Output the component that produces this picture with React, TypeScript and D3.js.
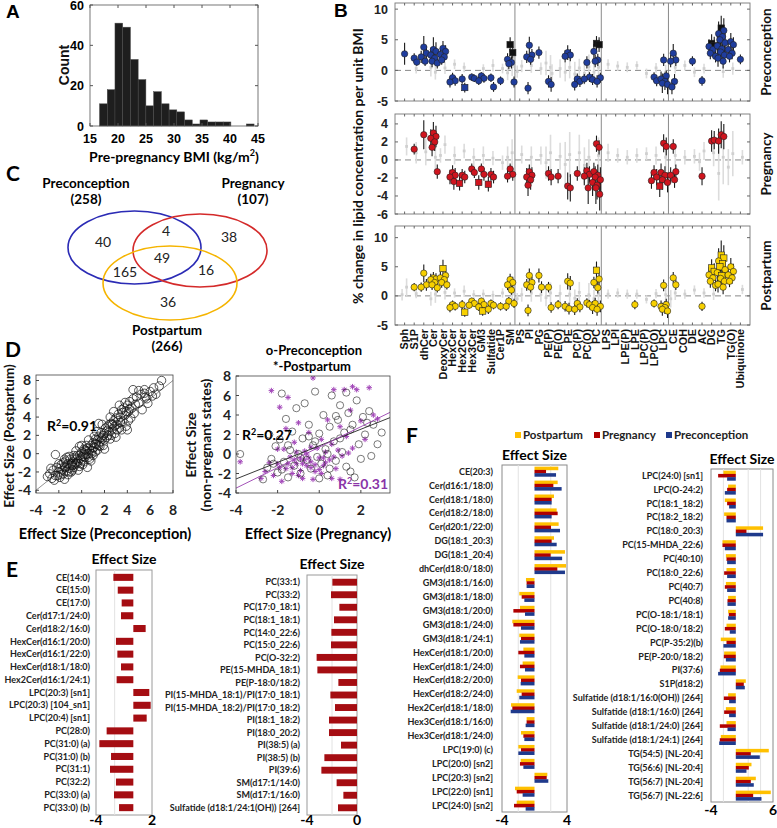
import React from "react";
import * as d3 from "d3";

const ARIAL = "'Liberation Sans', Arial, sans-serif";
const CAL = "Lato, 'Open Sans', sans-serif";

// ---------- A: BMI histogram ----------
const bmiCounts = [11, 18, 51, 49, 33, 23, 10, 17, 11, 8, 7, 3, 1, 3, 2, 2, 2, 0, 0, 1];
const bmiBinStart = 16.7;
const bmiBinWidth = 1.38;
const bmiTicks = [15, 20, 25, 30, 35, 40, 45];
const countTicks = [0, 20, 40, 60];

// ---------- B: lipid class effects ----------
const lipidClasses = [
  "Sph", "S1P", "dhCer", "Cer", "DeoxyCer", "HexCer", "Hex2Cer", "Hex3Cer", "GM3", "Sulfatide",
  "Cer1P", "SM", "PS", "PI", "PG", "PE(P)", "PE(O)", "PE", "PC(P)", "PC(O)", "PC", "LPS", "LPI",
  "LPE(P)", "LPE", "LPC(P)", "LPC(O)", "LPC", "CE", "COH", "DE", "AC", "DG", "TG", "TG(O)", "Ubiquinone",
];
const classBreaks = ["SM", "PC", "LPC"];

// [class, value, half error, marker: 0 circle, 1 square, 2 black square]
const preconPts: any[] = [
  ["Sph", 2.7, 1.8],
  ["S1P", 2.0, 0.8], ["S1P", 1.35, 0.6],
  ["dhCer", 3.8, 1.8], ["dhCer", 2.8, 1.2], ["dhCer", 2.2, 1.0], ["dhCer", 1.5, 0.8],
  ["Cer", 3.4, 2.0], ["Cer", 3.1, 1.5], ["Cer", 2.5, 1.2], ["Cer", 2.0, 1.0], ["Cer", 1.5, 1.0], ["Cer", 1.2, 0.9],
  ["DeoxyCer", 3.6, 1.2], ["DeoxyCer", 3.1, 1.0], ["DeoxyCer", 2.6, 1.0], ["DeoxyCer", 2.2, 0.9], ["DeoxyCer", 1.7, 0.8],
  ["HexCer", -1.2, 0.8], ["HexCer", -1.7, 0.8], ["HexCer", -1.9, 0.9],
  ["Hex2Cer", -1.4, 0.8], ["Hex2Cer", -2.8, 0.8, 1],
  ["Hex3Cer", -1.1, 0.6], ["Hex3Cer", -1.3, 0.6],
  ["GM3", -0.9, 0.6], ["GM3", -1.3, 0.7], ["GM3", -1.7, 0.7],
  ["Sulfatide", -1.2, 0.7], ["Sulfatide", -2.7, 0.8],
  ["Cer1P", -1.7, 0.7],
  ["SM", 4.2, 1.2, 2], ["SM", 2.9, 1.0, 2], ["SM", 1.8, 1.0], ["SM", 1.3, 1.0], ["SM", 1.1, 0.9], ["SM", -1.9, 0.9],
  ["PI", 4.1, 1.4], ["PI", 2.5, 1.0], ["PI", 2.2, 1.0], ["PI", 1.8, 0.9], ["PI", -2.9, 1.0],
  ["PG", 2.9, 1.0],
  ["PE(P)", -1.8, 1.0], ["PE(P)", -2.3, 1.2],
  ["PE", 2.9, 1.2], ["PE", 2.5, 1.0], ["PE", 2.3, 1.0],
  ["PC(P)", -1.4, 0.9], ["PC(P)", -1.8, 0.9], ["PC(P)", -2.3, 1.0],
  ["PC(O)", 1.3, 1.0], ["PC(O)", -1.1, 0.8], ["PC(O)", -1.4, 0.8],
  ["PC", 4.4, 1.2, 2], ["PC", 4.2, 1.2, 2], ["PC", 3.1, 1.2], ["PC", 1.7, 1.0], ["PC", 1.5, 1.0], ["PC", -1.2, 0.8], ["PC", -1.5, 0.9], ["PC", -1.8, 1.0],
  ["LPC(O)", -1.1, 0.8], ["LPC(O)", -1.7, 0.9],
  ["LPC", 1.7, 1.0], ["LPC", -0.9, 0.9], ["LPC", -1.4, 1.2], ["LPC", -1.8, 1.4], ["LPC", -2.1, 1.6], ["LPC", -2.3, 1.6],
  ["CE", 2.8, 1.5], ["CE", 1.7, 1.0], ["CE", 1.5, 1.0], ["CE", -1.8, 1.2], ["CE", -2.7, 1.2],
  ["DE", 1.5, 0.8],
  ["AC", -1.7, 0.8],
  ["DG", 4.4, 1.5, 2], ["DG", 4.0, 1.5, 2], ["DG", 3.9, 1.2], ["DG", 3.4, 1.2], ["DG", 2.8, 1.0], ["DG", 2.3, 1.0],
  ["TG", 6.9, 2.0, 2], ["TG", 6.5, 2.0], ["TG", 6.0, 2.0], ["TG", 5.5, 1.8], ["TG", 5.0, 1.8], ["TG", 4.5, 1.8],
  ["TG", 4.0, 1.6], ["TG", 3.5, 1.6], ["TG", 3.0, 1.5], ["TG", 2.5, 1.5], ["TG", 2.0, 1.4], ["TG", 1.5, 1.2],
  ["TG(O)", 4.7, 1.4], ["TG(O)", 4.2, 1.2], ["TG(O)", 3.4, 1.2], ["TG(O)", 2.8, 1.0], ["TG(O)", 2.3, 1.0],
  ["Ubiquinone", 1.8, 0.8],
];
const pregPts: any[] = [
  ["S1P", 1.2, 0.6],
  ["dhCer", 2.8, 1.6],
  ["Cer", 3.0, 1.2], ["Cer", 2.6, 1.2], ["Cer", 2.4, 1.0], ["Cer", 2.0, 1.0], ["Cer", 1.4, 1.0], ["Cer", -1.3, 0.8],
  ["HexCer", -1.4, 0.8], ["HexCer", -1.7, 0.8], ["HexCer", -1.9, 0.8], ["HexCer", -2.4, 0.9],
  ["Hex2Cer", -1.7, 0.7], ["Hex2Cer", -1.9, 0.7], ["Hex2Cer", -2.6, 0.8, 1],
  ["Hex3Cer", -1.0, 0.6], ["Hex3Cer", -1.4, 0.6],
  ["GM3", -1.0, 0.6], ["GM3", -1.6, 0.7], ["GM3", -2.5, 0.8, 1],
  ["Sulfatide", -1.6, 0.7], ["Sulfatide", -1.9, 0.7], ["Sulfatide", -2.7, 0.8, 1],
  ["SM", -1.0, 0.6], ["SM", -1.6, 0.7], ["SM", -1.8, 0.7],
  ["PI", -1.3, 0.8], ["PI", -1.7, 0.9], ["PI", -1.9, 1.0], ["PI", -2.2, 1.1], ["PI", -2.8, 1.2],
  ["PE(P)", -1.5, 0.8], ["PE(P)", -1.9, 0.9],
  ["PE(O)", -1.8, 0.8],
  ["PE", -2.9, 1.5], ["PE", -3.1, 1.5],
  ["PC(P)", -1.5, 0.8],
  ["PC(O)", -1.2, 0.9], ["PC(O)", -1.6, 0.9], ["PC(O)", -1.8, 1.0], ["PC(O)", -3.1, 1.8],
  ["PC", 1.8, 0.9], ["PC", 1.4, 0.8], ["PC", -1.3, 1.0], ["PC", -1.7, 1.2], ["PC", -1.9, 1.2], ["PC", -2.2, 1.4],
  ["PC", -2.5, 1.5], ["PC", -2.8, 1.6], ["PC", -3.1, 1.8], ["PC", -3.8, 1.8],
  ["LPC(O)", -1.4, 0.8], ["LPC(O)", -1.9, 0.9], ["LPC(O)", -2.3, 0.9],
  ["LPC", 1.85, 1.0], ["LPC", 1.5, 1.0], ["LPC", -1.4, 1.0], ["LPC", -1.7, 1.0], ["LPC", -2.2, 1.1], ["LPC", -2.5, 1.1], ["LPC", -2.9, 1.2, 1],
  ["CE", 1.5, 0.8], ["CE", -1.3, 0.8], ["CE", -1.7, 0.9], ["CE", -2.2, 0.9],
  ["AC", -1.8, 1.0],
  ["DG", 2.1, 1.2], ["DG", 2.2, 1.0],
  ["TG", 2.8, 1.5], ["TG", 2.6, 1.4], ["TG", 2.1, 1.4],
];
const postPts: any[] = [
  ["S1P", 1.5, 0.7],
  ["dhCer", 3.9, 1.5], ["dhCer", 1.9, 1.0], ["dhCer", 1.5, 0.8],
  ["Cer", 3.1, 1.0], ["Cer", 2.9, 1.0], ["Cer", 2.8, 1.0], ["Cer", 2.3, 1.0], ["Cer", 1.9, 0.9], ["Cer", 1.4, 0.8],
  ["DeoxyCer", 4.7, 1.5, 1], ["DeoxyCer", 3.5, 1.2], ["DeoxyCer", 3.1, 1.0], ["DeoxyCer", 2.8, 1.0], ["DeoxyCer", 2.3, 0.9], ["DeoxyCer", 1.9, 0.8],
  ["HexCer", -1.5, 0.7], ["HexCer", -1.8, 0.7], ["HexCer", -2.0, 0.8],
  ["Hex2Cer", -1.5, 0.8], ["Hex2Cer", -2.8, 0.8, 1],
  ["Hex3Cer", -0.9, 0.6], ["Hex3Cer", -1.3, 0.6], ["Hex3Cer", -1.6, 0.6],
  ["GM3", -0.9, 0.6], ["GM3", -1.5, 0.7], ["GM3", -1.9, 0.7], ["GM3", -2.6, 0.8, 1],
  ["Sulfatide", -1.3, 0.7], ["Sulfatide", -1.6, 0.7], ["Sulfatide", -2.3, 0.8],
  ["Cer1P", -1.8, 0.7],
  ["SM", 2.8, 1.0], ["SM", 2.3, 1.0], ["SM", 1.9, 0.9], ["SM", 1.0, 0.8], ["SM", -0.9, 0.7], ["SM", -1.3, 0.8], ["SM", -1.8, 0.8],
  ["PI", 3.5, 1.2], ["PI", 2.3, 1.0], ["PI", 1.9, 1.0], ["PI", 1.5, 0.9], ["PI", -2.5, 1.0],
  ["PG", 3.5, 1.2], ["PG", 1.5, 1.0],
  ["PE(P)", 1.5, 0.9], ["PE(P)", -2.0, 0.9],
  ["PE(O)", -1.5, 0.8],
  ["PE", 2.5, 1.4], ["PE", 2.2, 1.2], ["PE", -1.8, 0.9], ["PE", -2.2, 1.0],
  ["PC(P)", -1.3, 0.9], ["PC(P)", -1.9, 0.9], ["PC(P)", -2.3, 1.0],
  ["PC(O)", -1.2, 0.8], ["PC(O)", -1.5, 0.8],
  ["PC", 4.4, 1.5, 1], ["PC", 2.9, 1.2], ["PC", 2.3, 1.0], ["PC", 1.4, 1.0], ["PC", -1.3, 1.0], ["PC", -1.8, 1.0], ["PC", -2.0, 1.1], ["PC", -2.3, 1.1],
  ["LPE", -1.5, 0.8],
  ["LPC(O)", -1.3, 0.7],
  ["LPC", 1.8, 1.0], ["LPC", -1.5, 1.0], ["LPC", -1.8, 1.0], ["LPC", -2.0, 1.1], ["LPC", -2.3, 1.1], ["LPC", -2.6, 1.2],
  ["CE", 3.1, 1.0], ["CE", 1.9, 0.9],
  ["AC", -1.8, 0.8],
  ["DG", 4.8, 1.5, 1], ["DG", 4.2, 1.4, 1], ["DG", 3.6, 1.3], ["DG", 3.1, 1.2], ["DG", 2.5, 1.1], ["DG", 1.8, 1.0],
  ["TG", 7.0, 2.5, 1], ["TG", 6.5, 2.2, 1], ["TG", 6.0, 2.2], ["TG", 5.5, 2.0, 1], ["TG", 5.0, 2.0, 1], ["TG", 4.5, 1.8],
  ["TG", 4.0, 1.8], ["TG", 3.5, 1.6, 1], ["TG", 3.0, 1.5], ["TG", 2.5, 1.5], ["TG", 2.0, 1.4], ["TG", 1.5, 1.2],
  ["TG(O)", 5.0, 1.5], ["TG(O)", 4.2, 1.3], ["TG(O)", 3.6, 1.2], ["TG(O)", 3.1, 1.0], ["TG(O)", 2.5, 1.0],
];
// non-significant species: [class index, value, half error]
const preconGray = [
  [1, 0.3, 0.8], [3, -0.3, 1.2], [3, 0.5, 1.5], [4, 0.4, 1.0], [5, 1.0, 0.8], [6, 0.5, 0.8], [8, 0.3, 0.7], [9, 0.8, 1.0],
  [10, 0.3, 0.8], [11, 0.6, 1.5], [11, -0.4, 1.2], [12, 0.7, 1.0], [12, -0.2, 1.0], [13, 0.8, 1.2], [14, 0.3, 1.0],
  [15, 0.5, 2.0], [15, 1.2, 2.0], [15, -0.5, 1.5], [16, 0.3, 1.5], [17, 0.5, 1.8], [17, -0.3, 1.5], [18, 0.4, 1.5],
  [18, -0.6, 2.0], [19, 0.6, 2.0], [19, -0.5, 1.8], [20, 0.5, 1.5], [20, -0.3, 1.5], [21, 1.0, 0.8], [22, 0.7, 0.8],
  [23, 0.5, 0.8], [24, 0.8, 0.7], [25, -0.5, 0.8], [26, 0.4, 0.8], [27, -0.3, 1.2], [28, 0.5, 1.0], [29, 0.8, 0.8],
  [30, -0.3, 0.8], [31, 0.3, 0.8], [33, -0.2, 1.0], [34, 0.3, 1.0],
];
const pregGray = [
  [0, 1.5, 1.0], [1, 0.8, 1.2], [2, 0.9, 1.5], [3, 0.3, 1.5], [4, 1.7, 1.0], [4, 0.5, 0.8], [5, 0.5, 1.0], [6, 1.0, 0.8],
  [7, 0.3, 1.0], [8, 0.5, 1.0], [9, 0.2, 0.8], [10, -0.3, 0.8], [11, 0.8, 1.5], [11, 0.3, 1.2], [12, 0.6, 1.0],
  [13, 0.3, 1.2], [14, 0.5, 1.0], [15, 0.8, 2.0], [15, -0.3, 1.8], [16, 0.4, 1.5], [17, 0.6, 2.5], [17, -0.5, 2.5],
  [18, 0.8, 2.0], [19, 0.3, 2.0], [19, -0.6, 2.0], [20, 0.5, 2.0], [21, 0.8, 1.0], [22, 0.5, 0.8], [23, 0.3, 0.8],
  [24, 0.5, 0.8], [25, 0.7, 0.7], [26, 0.5, 1.0], [27, 0.3, 1.5], [28, 0.5, 1.2], [29, 0.3, 0.8], [30, 0.4, 0.8],
  [31, 1.0, 1.0], [31, -0.2, 1.0], [32, 0.8, 1.5], [33, 0.3, 3.0], [33, -1.5, 3.0], [34, 0.7, 2.5], [34, -0.8, 2.0], [35, 0.3, 0.8],
];
const postGray = [
  [0, 1.5, 1.5], [0, 0.2, 1.0], [1, 0.4, 0.8], [3, 0.3, 1.5], [3, -0.5, 1.2], [4, 0.6, 1.2], [5, 0.5, 0.8], [6, 0.8, 1.0],
  [7, 0.2, 0.8], [8, 0.3, 0.8], [9, 0.1, 0.8], [10, 0.5, 0.8], [11, 0.3, 1.5], [12, 0.2, 1.2], [12, -0.5, 1.0],
  [13, 0.5, 1.5], [14, 0.2, 1.2], [15, 0.5, 1.8], [15, -0.3, 1.5], [16, 0.4, 1.5], [17, 0.3, 1.8], [18, 0.6, 1.8],
  [18, -0.4, 1.5], [19, 0.2, 2.0], [20, 0.4, 1.5], [20, -0.5, 1.5], [21, 0.3, 0.8], [22, 0.5, 0.8], [23, 0.3, 0.8],
  [24, 0.3, 0.8], [25, -0.6, 0.7], [26, 0.4, 0.8], [27, 0.2, 1.5], [28, 0.5, 1.2], [28, -0.5, 1.5], [29, 0.3, 0.8],
  [30, 1.0, 0.8], [31, 0.5, 0.8], [32, 0.3, 1.0], [35, 1.1, 0.8],
];

// ---------- C: Venn ----------
const vennSets = [
  { name: "Preconception", n: 258, color: "#2b2bb5" },
  { name: "Pregnancy", n: 107, color: "#d42a2a" },
  { name: "Postpartum", n: 266, color: "#f5b400" },
];
const vennCounts = ["40", "4", "38", "165", "49", "16", "36"];

// ---------- D: scatter ----------
const preVsPost = [
  [-3.0, -2.5], [-2.8, -2.2], [-2.6, -2.7], [-2.5, -1.8], [-2.3, -2.4], [-2.2, -1.5], [-2.0, -2.0], [-1.9, -2.6],
  [-1.8, -1.2], [-1.7, -1.8], [-1.6, -2.2], [-1.5, -1.4], [-1.4, -0.8], [-1.3, -1.9], [-1.2, -1.1], [-1.1, -1.6],
  [-1.0, -0.6], [-1.0, -1.3], [-0.9, -2.0], [-0.8, -0.9], [-2.3, -0.1], [-0.7, -1.5], [-0.6, -0.4], [-0.5, -1.0],
  [-0.4, -0.2], [-0.3, -0.8], [-0.2, -1.4], [-0.1, -0.5], [0, 0.2], [0.1, -0.3], [0.2, -0.9], [0.3, 0.4], [0.4, -0.1],
  [0.5, 0.6], [0.6, 0.0], [0.7, -0.6], [0.8, 0.9], [0.9, 0.3], [1.0, 1.2], [1.0, -0.2], [1.1, 0.7], [1.2, 1.6],
  [1.3, 1.0], [1.4, 0.4], [1.5, 1.9], [1.6, 1.3], [1.7, 2.3], [1.8, 1.6], [1.9, 0.9], [2.0, 2.2], [2.1, 2.8],
  [2.2, 1.8], [2.3, 3.0], [2.4, 2.4], [2.5, 1.6], [2.6, 3.3], [2.7, 2.7], [2.8, 3.6], [2.9, 2.2], [3.0, 3.9],
  [3.1, 3.2], [3.2, 4.3], [3.3, 2.8], [3.4, 4.0], [3.5, 4.8], [3.6, 3.5], [3.7, 5.0], [3.8, 4.2], [3.9, 3.0],
  [4.0, 5.3], [4.1, 4.6], [4.2, 5.7], [4.3, 3.9], [4.4, 5.0], [4.5, 6.0], [4.6, 4.4], [4.8, 6.2], [5.0, 5.5],
  [5.2, 6.5], [5.3, 4.8], [5.5, 6.6], [5.7, 6.0], [6.0, 6.8], [6.2, 6.3], [6.5, 6.5], [7.0, 8.0], [4.0, 2.6],
  [3.5, 2.6], [1.5, 3.3], [-1.5, -2.8], [0.5, -1.5], [-0.2, 0.8], [2.0, 0.5], [5.5, 7.0], [6.3, 7.2],
  [-1.5, -0.6], [-0.8, -1.8], [-0.5, 0.3], [0.2, 0.5], [0.8, -0.8], [-1.2, -2.3], [1.3, 2.4], [2.5, 4.0],
  [3.0, 1.8], [-0.3, -1.8], [0.6, 1.5], [1.8, 3.2], [2.8, 4.6], [3.3, 5.3], [4.5, 7.0], [5.0, 6.9], [5.8, 5.5],
  [-2.7, -1.6], [-2.0, -1.1], [-1.1, -0.3], [-0.6, -1.2], [0.0, -0.7], [0.3, -0.4], [0.9, 0.0], [1.1, 1.9],
  [1.6, 0.8], [2.2, 2.5], [2.6, 2.0], [3.6, 4.5], [4.2, 4.9], [-1.8, -2.3], [-0.4, -1.1], [0.4, 0.9],
  [-2.4, -2.9], [-1.6, -1.0], [-0.9, -1.1], [-0.7, -0.2], [-0.1, -1.1], [0.2, -0.1], [0.7, 0.4], [1.2, 0.2],
  [1.4, 1.5], [1.9, 2.0], [2.4, 3.2], [2.9, 3.0], [3.2, 3.6], [3.8, 5.6], [-1.3, -0.4], [0.0, 0.9],
  [-2.1, -2.4], [-1.9, -1.6], [-1.4, -1.5], [-1.1, -2.0], [-0.8, -1.3], [-0.5, -0.6], [-0.2, -0.2], [0.1, -1.2],
  [0.4, 0.3], [0.6, -0.4], [1.0, 0.6], [1.2, 1.1], [1.5, 0.9], [1.7, 1.8], [2.0, 1.5], [2.3, 2.0], [2.7, 3.2],
  [3.1, 2.6], [3.4, 3.4], [3.9, 4.6], [4.1, 3.6], [4.7, 5.4], [5.6, 6.2], [6.8, 7.4],
];
const pregVsPre = [
  [-3.8, 0.0], [-2.7, -2.6], [-2.5, -1.4], [-2.3, -0.5], [-2.1, 0.8], [-2.0, -1.9], [-1.9, 1.5], [-1.8, 6.2],
  [-1.7, -0.8], [-1.6, 3.6], [-1.5, -2.4], [-1.4, 0.4], [-1.3, 2.3], [-1.2, -1.2], [-1.1, 4.7], [-1.0, 0.0],
  [-0.9, -2.0], [-0.8, 1.6], [-0.7, 5.2], [-0.6, -0.6], [-0.5, 3.0], [-0.4, -1.5], [-0.3, 0.9], [-0.2, 6.4],
  [-0.1, -0.3], [0.0, 2.1], [0.1, -1.0], [0.2, 4.0], [0.3, 0.5], [0.4, -2.2], [0.5, 2.8], [0.6, 6.0], [0.7, 1.3],
  [0.8, -0.7], [0.9, 3.5], [1.0, 5.0], [1.1, 0.2], [1.2, 2.2], [1.3, -1.3], [1.4, 4.2], [1.5, -1.8], [1.6, 3.0],
  [1.8, 5.5], [1.9, 1.0], [2.0, -0.5], [2.1, 3.8], [2.2, 2.0], [2.4, 4.4], [2.6, 3.0], [2.8, 1.0], [3.0, 2.2],
  [1.3, 6.3], [0.5, -1.5], [-0.5, 1.8], [-1.8, -1.6], [0.0, -2.5], [1.7, -2.4], [2.5, -0.2], [0.8, 3.9], [-2.4, 2.0],
  [-1.5, 0.9], [-0.9, -0.4], [-0.2, 1.3], [0.4, 0.0], [1.0, 1.6], [1.5, 2.5], [-2.2, -1.0], [2.3, 3.2],
];
const pregVsPost = [
  [-3.8, -0.8], [-2.8, -2.5], [-2.6, -1.8], [-2.4, -0.9], [-2.2, -2.2], [-2.0, -1.0], [-1.9, 4.8], [-1.8, -2.8],
  [-1.7, 0.5], [-1.6, -1.5], [-1.5, 5.8], [-1.4, -0.3], [-1.3, -2.0], [-1.2, 1.2], [-1.1, -1.0], [-1.0, 3.2],
  [-0.9, -0.5], [-0.8, -2.5], [-0.7, 0.3], [-0.6, -1.2], [-0.5, 2.2], [-0.4, -0.8], [-0.3, 7.8], [-0.2, -1.8],
  [-0.1, 0.6], [0.0, -0.4], [0.1, 1.5], [0.2, -1.2], [0.3, 0.2], [0.4, 3.5], [0.5, -0.6], [0.6, 1.0], [0.7, 6.6],
  [0.8, -1.5], [0.9, 0.4], [1.0, 2.8], [1.1, -0.2], [1.2, 6.6], [1.3, 1.8], [1.5, 4.5], [1.6, 0.6], [1.8, 6.6],
  [2.0, 3.4], [2.2, 1.5], [2.4, 6.8], [2.6, 4.0], [2.8, 3.6], [-1.2, -0.6], [-0.8, -1.0], [-0.4, -1.4], [0.0, -1.6],
  [-1.5, -1.0], [-0.6, 0.0], [0.2, -0.4], [-2.0, 0.5], [-1.0, -2.2], [0.6, -2.5], [-0.3, -2.6], [1.0, -2.6],
  [-1.6, 2.6], [-2.3, 6.5], [1.6, 6.9], [-1.3, -1.4], [-0.9, -1.7], [-0.5, -0.4], [-0.2, -1.1], [0.3, -0.9],
  [-1.1, 0.2], [-0.7, -0.6], [0.1, -2.0], [0.7, -0.3], [-1.9, -1.4], [-0.4, 0.7], [1.4, 0.1],
];
const fitLines = [
  { slope: 0.85, intercept: 0.84, color: "#222" },
  { slope: 1.05, intercept: 0.7, color: "#9a40b0" },
];

// ---------- E: pregnancy-only effects ----------
const eLeftLabels = [
  "CE(14:0)", "CE(15:0)", "CE(17:0)", "Cer(d17:1/24:0)", "Cer(d18:2/16:0)", "HexCer(d16:1/20:0)", "HexCer(d16:1/22:0)",
  "HexCer(d18:1/18:0)", "Hex2Cer(d16:1/24:1)", "LPC(20:3) [sn1]", "LPC(20:3) [104_sn1]", "LPC(20:4) [sn1]", "PC(28:0)",
  "PC(31:0) (a)", "PC(31:0) (b)", "PC(31:1)", "PC(32:2)", "PC(33:0) (a)", "PC(33:0) (b)",
];
const eLeftValues = [-2.14, -1.67, -1.25, -1.32, 1.32, -1.86, -1.71, -1.32, -1.79, 1.71, 1.86, 1.43, -2.86, -3.64, -2.39, -2.5, -1.86, -2.07, -1.53];
const eRightLabels = [
  "PC(33:1)", "PC(33:2)", "PC(17:0_18:1)", "PC(18:1_18:1)", "PC(14:0_22:6)", "PC(15:0_22:6)", "PC(O-32:2)",
  "PE(15-MHDA_18:1)", "PE(P-18:0/18:2)", "PI(15-MHDA_18:1)/PI(17:0_18:1)", "PI(15-MHDA_18:2)/PI(17:0_18:2)",
  "PI(18:1_18:2)", "PI(18:0_20:2)", "PI(38:5) (a)", "PI(38:5) (b)", "PI(39:6)", "SM(d17:1/14:0)", "SM(d17:1/16:0)",
  "Sulfatide (d18:1/24:1(OH)) [264]",
];
const eRightValues = [-1.97, -2.08, -1.41, -1.84, -2.05, -2.08, -3.23, -3.17, -1.49, -2.13, -1.76, -2.24, -2.24, -1.28, -2.61, -2.85, -1.63, -1.09, -1.52];

// ---------- F: species changed in all three states ----------
const fSeries = ["Postpartum", "Pregnancy", "Preconception"];
const fColors = ["#ffc000", "#b00000", "#1f3a8c"];
const fLeftLabels = [
  "CE(20:3)", "Cer(d16:1/18:0)", "Cer(d18:1/18:0)", "Cer(d18:2/18:0)", "Cer(d20:1/22:0)", "DG(18:1_20:3)", "DG(18:1_20:4)",
  "dhCer(d18:0/18:0)", "GM3(d18:1/16:0)", "GM3(d18:1/18:0)", "GM3(d18:1/20:0)", "GM3(d18:1/24:0)", "GM3(d18:1/24:1)",
  "HexCer(d18:1/20:0)", "HexCer(d18:1/24:0)", "HexCer(d18:2/20:0)", "HexCer(d18:2/24:0)", "Hex2Cer(d18:1/18:0)",
  "Hex3Cer(d18:1/16:0)", "Hex3Cer(d18:1/24:0)", "LPC(19:0) (c)", "LPC(20:0) [sn2]", "LPC(20:3) [sn2]", "LPC(22:0) [sn1]",
  "LPC(24:0) [sn2]",
];
const fLeftPost = [2.93, 2.85, 2.4, 2.73, 2.97, 2.4, 3.75, 3.88, -1.05, -1.87, -1.79, -2.73, -1.87, -1.37, -1.46, -2.07, -2.19, -2.89, -0.97, -1.66, -1.99, -1.7, 1.58, -2.4, -2.19];
const fLeftPreg = [1.42, 2.32, 2.11, 2.85, 2.03, 2.11, 1.99, 2.81, -0.97, -1.58, -2.6, -2.6, -1.66, -1.99, -1.79, -1.66, -1.58, -2.73, -0.97, -1.37, -1.66, -1.79, 1.5, -2.19, -2.52];
const fLeftPre = [2.65, 3.34, 2.11, 2.11, 3.14, 2.73, 3.4, 3.75, -0.97, -1.25, -1.17, -1.66, -1.79, -1.25, -1.17, -1.7, -1.87, -2.93, -1.09, -1.25, -1.99, -1.37, 1.7, -1.46, -1.09];
const fRightLabels = [
  "LPC(24:0) [sn1]", "LPC(O-24:2)", "PC(18:1_18:2)", "PC(18:2_18:2)", "PC(18:0_20:3)", "PC(15-MHDA_22:6)", "PC(40:10)",
  "PC(18:0_22:6)", "PC(40:7)", "PC(40:8)", "PC(O-18:1/18:1)", "PC(O-18:0/18:2)", "PC(P-35:2)(b)", "PE(P-20:0/18:2)",
  "PI(37:6)", "S1P(d18:2)", "Sulfatide (d18:1/16:0(OH)) [264]", "Sulfatide (d18:1/16:0) [264]",
  "Sulfatide (d18:1/24:0) [264]", "Sulfatide (d18:1/24:1) [264]", "TG(54:5) [NL-20:4]", "TG(56:6) [NL-20:4]",
  "TG(56:7) [NL-20:4]", "TG(56:7) [NL-22:6]",
];
const fRightPost = [-2.0, -1.24, -1.77, -1.88, 4.4, -2.15, -1.6, -1.5, -1.6, -1.24, -1.24, -1.5, -2.42, -1.88, -2.47, 1.61, -1.24, -1.6, -1.5, -2.42, 5.32, 2.53, 3.23, 5.64];
const fRightPreg = [-2.85, -1.4, -1.4, -1.5, 1.72, -2.15, -1.5, -1.88, -1.77, -1.34, -1.13, -1.77, -1.5, -1.93, -2.58, 1.29, -1.93, -1.88, -2.58, -2.58, 2.42, 2.1, 2.42, 2.8];
const fRightPre = [-1.4, -1.77, -1.08, -1.5, 4.4, -1.77, -1.4, -1.4, -1.4, -1.34, -1.24, -0.97, -2.0, -1.6, -2.85, 1.45, -1.08, -1.08, -1.34, -2.68, 3.87, 1.72, 2.9, 4.14];

const jitter = [0, 2.6, -2.6, 1.3, -1.3, 3.9, -3.9, 0.6, -0.6, 3.2, -3.2, 1.9];

function RotText({ x, y, children, size = 13, weight = "bold", anchor = "middle", family = CAL, fill = "#111" }: any) {
  return (
    <text transform={`translate(${x},${y}) rotate(-90)`} textAnchor={anchor} fontSize={size} fontWeight={weight} fontFamily={family} fill={fill}>
      {children}
    </text>
  );
}

function PanelA() {
  const x = d3.scaleLinear().domain([15, 45]).range([90, 258]);
  const y = d3.scaleLinear().domain([0, 60]).range([126, 5]);
  return (
    <g>
      <text x={6} y={18} fontFamily={ARIAL} fontWeight="bold" fontSize={19}>A</text>
      {bmiCounts.map((c, i) =>
        c > 0 ? (
          <rect key={i} x={x(bmiBinStart + i * bmiBinWidth)} y={y(c)} width={x(bmiBinStart + (i + 1) * bmiBinWidth) - x(bmiBinStart + i * bmiBinWidth)}
            height={y(0) - y(c)} fill="#1e1e1e" stroke="#4a4a4a" strokeWidth={0.5} />
        ) : null
      )}
      <rect x={90} y={5} width={168} height={121} fill="none" stroke="#555" strokeWidth={0.8} />
      {bmiTicks.map((t) => (
        <g key={t}>
          <line x1={x(t)} x2={x(t)} y1={126} y2={123} stroke="#555" />
          <line x1={x(t)} x2={x(t)} y1={5} y2={8} stroke="#555" />
          <text x={x(t)} y={143} textAnchor="middle" fontFamily={ARIAL} fontWeight="bold" fontSize={12.5}>{t}</text>
        </g>
      ))}
      {countTicks.map((t) => (
        <g key={t}>
          <line x1={90} x2={93} y1={y(t)} y2={y(t)} stroke="#555" />
          <line x1={258} x2={255} y1={y(t)} y2={y(t)} stroke="#555" />
          <text x={84} y={y(t) + 4.5} textAnchor="end" fontFamily={ARIAL} fontWeight="bold" fontSize={12.5}>{t}</text>
        </g>
      ))}
      <RotText x={69} y={65} size={14} family={ARIAL}>Count</RotText>
      <text x={174} y={162} textAnchor="middle" fontSize={14} fontWeight="bold" fontFamily={CAL}>
        Pre-pregnancy BMI (kg/m<tspan dy={-6} fontSize={9}>2</tspan><tspan dy={6}>)</tspan>
      </text>
    </g>
  );
}

function BSub({ top, bottom, domain, ticks, pts, gray, color, label, showX }: any) {
  const x = d3.scalePoint().domain(lipidClasses).range([395, 750]).padding(1);
  const y = d3.scaleLinear().domain(domain).range([bottom, top]);
  const step = x.step();
  const counts: any = {};
  const marks = pts.map((p: any) => {
    const j = counts[p[0]] || 0;
    counts[p[0]] = j + 1;
    return { cx: (x(p[0]) as number) + jitter[j % jitter.length], v: p[1], e: p[2], s: p[3] || 0 };
  });
  const gcount: any = {};
  const gmarks = gray.map((g: any) => {
    const j = gcount[g[0]] || 0;
    gcount[g[0]] = j + 1;
    return { cx: (x(lipidClasses[g[0]]) as number) + [2, -2.5, 3.5][j % 3], v: g[1], e: g[2] };
  });
  return (
    <g>
      <rect x={395} y={top} width={355} height={bottom - top} fill="#fff" stroke="#777" strokeWidth={0.9} />
      {classBreaks.map((c) => {
        const bx = (x(c) as number) + step / 2;
        return <line key={c} x1={bx} x2={bx} y1={top} y2={bottom} stroke="#8a8a8a" strokeWidth={1} />;
      })}
      <line x1={395} x2={750} y1={y(0)} y2={y(0)} stroke="#888" strokeDasharray="6 4" strokeWidth={1} />
      {gmarks.map((g: any, i: number) => (
        <g key={"g" + i}>
          <line x1={g.cx} x2={g.cx} y1={Math.min(bottom, y(g.v - g.e))} y2={Math.max(top, y(g.v + g.e))} stroke="#dcdcdc" strokeWidth={1.6} />
          <rect x={g.cx - 1.4} y={y(g.v) - 1.4} width={2.8} height={2.8} fill="#cfcfcf" />
        </g>
      ))}
      {marks.map((m: any, i: number) => (
        <line key={"e" + i} x1={m.cx} x2={m.cx} y1={Math.min(bottom, y(m.v - m.e))} y2={Math.max(top, y(m.v + m.e))} stroke="#1a1a1a" strokeWidth={1.1} />
      ))}
      {marks.map((m: any, i: number) =>
        m.s === 0 ? (
          <circle key={"m" + i} cx={m.cx} cy={y(m.v)} r={3.2} fill={color} stroke="#222" strokeWidth={0.6} />
        ) : (
          <rect key={"m" + i} x={m.cx - 3.2} y={y(m.v) - 3.2} width={6.4} height={6.4} fill={m.s === 2 ? "#111" : color} stroke="#222" strokeWidth={0.6} />
        )
      )}
      {lipidClasses.map((c) => (
        <g key={c}>
          <line x1={x(c)} x2={x(c)} y1={top} y2={top + 2.5} stroke="#666" />
          <line x1={x(c)} x2={x(c)} y1={bottom} y2={bottom - 2.5} stroke="#666" />
        </g>
      ))}
      {ticks.map((t: number) => (
        <g key={t}>
          <line x1={395} x2={398} y1={y(t)} y2={y(t)} stroke="#666" />
          <line x1={750} x2={747} y1={y(t)} y2={y(t)} stroke="#666" />
          <text x={388} y={y(t) + 4.5} textAnchor="end" fontFamily={ARIAL} fontWeight="bold" fontSize={12.5} fill="#222">{t}</text>
        </g>
      ))}
      <RotText x={771} y={(top + bottom) / 2} size={13.5}>{label}</RotText>
      {showX &&
        lipidClasses.map((c) => (
          <text key={"l" + c} transform={`translate(${(x(c) as number) + 3.8},${bottom + 4}) rotate(-90)`} textAnchor="end" fontFamily={ARIAL}
            fontWeight="bold" fontSize={10.8} fill="#111">{c}</text>
        ))}
    </g>
  );
}

function PanelB() {
  return (
    <g>
      <text x={334} y={17} fontFamily={ARIAL} fontWeight="bold" fontSize={19}>B</text>
      <BSub top={3} bottom={101} domain={[-5, 11]} ticks={[-5, 0, 5, 10]} pts={preconPts} gray={preconGray} color="#1f3d9e" label="Preconception" />
      <BSub top={114} bottom={214} domain={[-6, 5.1]} ticks={[-6, -4, -2, 0, 2, 4]} pts={pregPts} gray={pregGray} color="#d0141e" label="Pregnancy" />
      <BSub top={226} bottom={325} domain={[-5, 12]} ticks={[-5, 0, 5, 10]} pts={postPts} gray={postGray} color="#f7d000" label="Postpartum" showX />
      <RotText x={363} y={166} size={14}>% change in lipid concentration per unit BMI</RotText>
    </g>
  );
}

function PanelC() {
  const ell = [
    { cx: 134.5, cy: 247.5, rx: 66.5, ry: 36.5 },
    { cx: 200, cy: 250.5, rx: 67, ry: 36.5 },
    { cx: 170, cy: 283, rx: 67, ry: 37 },
  ];
  const countPos = [[103, 247], [166, 236], [229, 242], [125, 277], [162, 263], [206, 275], [168, 307]];
  const labelPos = [[86, 188], [253, 188], [167, 335]];
  return (
    <g>
      <text x={6} y={181} fontFamily={CAL} fontWeight="bold" fontSize={21}>C</text>
      {vennSets.map((s, i) => (
        <ellipse key={s.name} cx={ell[i].cx} cy={ell[i].cy} rx={ell[i].rx} ry={ell[i].ry} fill="none" stroke={s.color} strokeWidth={1.6} />
      ))}
      {vennCounts.map((c, i) => (
        <text key={i} x={countPos[i][0]} y={countPos[i][1]} textAnchor="middle" fontSize={14} fontFamily={CAL} fill="#222">{c}</text>
      ))}
      {vennSets.map((s, i) => (
        <g key={"l" + i}>
          <text x={labelPos[i][0]} y={labelPos[i][1]} textAnchor="middle" fontSize={13.5} fontWeight="bold" fontFamily={CAL}>{s.name}</text>
          <text x={labelPos[i][0]} y={labelPos[i][1] + 16} textAnchor="middle" fontSize={13.5} fontWeight="bold" fontFamily={CAL}>({s.n})</text>
        </g>
      ))}
    </g>
  );
}

function Star({ x, y, color }: any) {
  const r = 2.8;
  const d = r * 0.7;
  return (
    <path d={`M${x - r},${y}H${x + r}M${x},${y - r}V${y + r}M${x - d},${y - d}L${x + d},${y + d}M${x - d},${y + d}L${x + d},${y - d}`} stroke={color} strokeWidth={1} />
  );
}

function PanelD() {
  const xl = d3.scaleLinear().domain([-4, 8]).range([36, 173]);
  const yl = d3.scaleLinear().domain([-4.3, 8.6]).range([493, 375]);
  const xr = d3.scaleLinear().domain([-4, 3.4]).range([236, 390]);
  const yr = d3.scaleLinear().domain([-4, 8]).range([493, 376]);
  const tickT = { fontFamily: CAL, fontWeight: "bold", fontSize: 14, fill: "#222" } as any;
  return (
    <g>
      <text x={5} y={357} fontFamily={CAL} fontWeight="bold" fontSize={21}>D</text>
      <defs>
        <clipPath id="dl"><rect x={36} y={375} width={137} height={118} /></clipPath>
        <clipPath id="dr"><rect x={236} y={376} width={154} height={117} /></clipPath>
      </defs>
      {/* left */}
      <g clipPath="url(#dl)">
        <line x1={xl(-4.3)} y1={yl(-4.3)} x2={xl(8.6)} y2={yl(8.6)} stroke="#777" strokeWidth={0.8} />
        {preVsPost.map((p, i) => (
          <circle key={i} cx={xl(p[0])} cy={yl(p[1])} r={4.2} fill="none" stroke="#111" strokeWidth={0.7} />
        ))}
      </g>
      <rect x={36} y={375} width={137} height={118} fill="none" stroke="#444" strokeWidth={0.8} />
      {[-4, -2, 0, 2, 4, 6, 8].map((t) => (
        <g key={"xl" + t}>
          <line x1={xl(t)} x2={xl(t)} y1={493} y2={490} stroke="#444" />
          <text x={xl(t)} y={515} textAnchor="middle" {...tickT}>{t}</text>
        </g>
      ))}
      {[-4, -2, 0, 2, 4, 6, 8].map((t) => (
        <g key={"yl" + t}>
          <line x1={36} x2={39} y1={yl(t)} y2={yl(t)} stroke="#444" />
          <text x={31} y={yl(t) + 5} textAnchor="end" {...tickT}>{t}</text>
        </g>
      ))}
      <text x={47} y={431} fontFamily={CAL} fontWeight="bold" fontSize={14}>R<tspan dy={-5} fontSize={9}>2</tspan><tspan dy={5}>=0.91</tspan></text>
      <RotText x={14} y={436} size={13.5}>Effect Size (Postpartum)</RotText>
      <text x={105} y={539} textAnchor="middle" fontFamily={CAL} fontWeight="bold" fontSize={14.5}>Effect Size (Preconception)</text>

      {/* right */}
      <g clipPath="url(#dr)">
        {pregVsPost.map((p, i) => <Star key={"s" + i} x={xr(p[0])} y={yr(p[1])} color="#a246b8" />)}
        {pregVsPre.map((p, i) => (
          <circle key={"c" + i} cx={xr(p[0])} cy={yr(p[1])} r={3.6} fill="none" stroke="#222" strokeWidth={0.6} />
        ))}
        {fitLines.map((f, i) => (
          <line key={"f" + i} x1={xr(-4)} x2={xr(3.4)} y1={yr(f.intercept + f.slope * -4)} y2={yr(f.intercept + f.slope * 3.4)} stroke={f.color} strokeWidth={0.9} />
        ))}
      </g>
      <rect x={236} y={376} width={154} height={117} fill="none" stroke="#444" strokeWidth={0.8} />
      {[-4, -2, 0, 2].map((t) => (
        <g key={"xr" + t}>
          <line x1={xr(t)} x2={xr(t)} y1={493} y2={490} stroke="#444" />
          <text x={xr(t)} y={515} textAnchor="middle" {...tickT}>{t}</text>
        </g>
      ))}
      {[-4, -2, 0, 2, 4, 6, 8].map((t) => (
        <g key={"yr" + t}>
          <line x1={236} x2={239} y1={yr(t)} y2={yr(t)} stroke="#444" />
          <text x={231} y={yr(t) + 5} textAnchor="end" {...tickT}>{t}</text>
        </g>
      ))}
      <text x={314} y={355} textAnchor="middle" fontFamily={CAL} fontWeight="bold" fontSize={13}>o-Preconception</text>
      <text x={312} y={371} textAnchor="middle" fontFamily={CAL} fontWeight="bold" fontSize={13}>*-Postpartum</text>
      <text x={242} y={440} fontFamily={CAL} fontWeight="bold" fontSize={14}>R<tspan dy={-5} fontSize={9}>2</tspan><tspan dy={5}>=0.27</tspan></text>
      <text x={338} y={489} fontFamily={CAL} fontWeight="bold" fontSize={14} fill="#8a35a8">R<tspan dy={-5} fontSize={9}>2</tspan><tspan dy={5}>=0.31</tspan></text>
      <RotText x={196} y={445} size={14}>Effect Size</RotText>
      <RotText x={211} y={445} size={14}>(non-pregnant states)</RotText>
      <text x={318} y={539} textAnchor="middle" fontFamily={CAL} fontWeight="bold" fontSize={14.5}>Effect Size (Pregnancy)</text>
    </g>
  );
}

function HBars({ labels, values, left, right, top, bottom, domain, grid, labelX, tickY }: any) {
  const x = d3.scaleLinear().domain(domain).range([left, right]);
  const y = d3.scaleBand().domain(labels).range([top, bottom]).paddingInner(0.45).paddingOuter(0.3);
  return (
    <g>
      <rect x={left} y={top} width={right - left} height={bottom - top} fill="#fff" stroke="#9a9a9a" strokeWidth={1} />
      {grid.map((g: number) => <line key={g} x1={x(g)} x2={x(g)} y1={top} y2={bottom} stroke="#e2e2e2" />)}
      {labels.map((l: string, i: number) => (
        <g key={l}>
          <rect x={Math.min(x(0), x(values[i]))} y={y(l)} width={Math.abs(x(values[i]) - x(0))} height={y.bandwidth()} fill="#a50d12" />
          <text x={labelX} y={(y(l) as number) + y.bandwidth() / 2 + 3.2} textAnchor="end" fontFamily={CAL} fontWeight="bold" fontSize={9} fill="#222">{l}</text>
        </g>
      ))}
      <text x={(left + right) / 2} y={top - 6} textAnchor="middle" fontFamily={CAL} fontWeight="bold" fontSize={14}>Effect Size</text>
      {domain.map((d: number) => (
        <text key={d} x={x(d)} y={tickY} textAnchor="middle" fontFamily={CAL} fontWeight="bold" fontSize={14}>{d}</text>
      ))}
    </g>
  );
}

function PanelE() {
  return (
    <g>
      <text x={6} y={577} fontFamily={CAL} fontWeight="bold" fontSize={21}>E</text>
      <HBars labels={eLeftLabels} values={eLeftValues} left={96} right={152} top={570} bottom={815} domain={[-4, 2]} grid={[-2]} labelX={90} tickY={825} />
      <HBars labels={eRightLabels} values={eRightValues} left={307} right={357} top={575} bottom={815} domain={[-4, 0]} grid={[-2]} labelX={300} tickY={825} />
    </g>
  );
}

function GroupBars({ labels, series, left, right, top, bottom, domain, grid, labelX, tickY }: any) {
  const x = d3.scaleLinear().domain(domain).range([left, right]);
  const y = d3.scaleBand().domain(labels).range([top, bottom]).paddingInner(0.3).paddingOuter(0.12);
  const sub = d3.scaleBand().domain(fSeries).range([0, y.bandwidth()]);
  return (
    <g>
      <rect x={left} y={top} width={right - left} height={bottom - top} fill="#fff" stroke="#8a8a8a" strokeWidth={1} />
      {grid.map((g: number) => <line key={g} x1={x(g)} x2={x(g)} y1={top} y2={bottom} stroke="#e2e2e2" />)}
      {labels.map((l: string, i: number) => (
        <g key={l}>
          {fSeries.map((s, k) => (
            <rect key={s} x={Math.min(x(0), x(series[k][i]))} y={(y(l) as number) + (sub(s) as number)} width={Math.abs(x(series[k][i]) - x(0))}
              height={sub.bandwidth() + 0.3} fill={fColors[k]} />
          ))}
          <text x={labelX} y={(y(l) as number) + y.bandwidth() / 2 + 3.2} textAnchor="end" fontFamily={CAL} fontWeight="bold" fontSize={9} fill="#222">{l}</text>
        </g>
      ))}
      <text x={(left + right) / 2} y={top - 5} textAnchor="middle" fontFamily={CAL} fontWeight="bold" fontSize={14}>Effect Size</text>
      {[domain[0], domain[1]].map((d: number) => (
        <text key={d} x={x(d)} y={tickY} textAnchor="middle" fontFamily={CAL} fontWeight="bold" fontSize={14}>{d}</text>
      ))}
    </g>
  );
}

function PanelF() {
  const legendX = [515, 594, 666];
  return (
    <g>
      <text x={406} y={443} fontFamily={CAL} fontWeight="bold" fontSize={21}>F</text>
      {fSeries.map((s, k) => (
        <g key={s}>
          <rect x={legendX[k]} y={432} width={6} height={6} fill={fColors[k]} />
          <text x={legendX[k] + 8} y={439} fontFamily={CAL} fontWeight="bold" fontSize={11.5} fill="#222">{s}</text>
        </g>
      ))}
      <GroupBars labels={fLeftLabels} series={[fLeftPost, fLeftPreg, fLeftPre]} left={502} right={567} top={465} bottom={812}
        domain={[-4, 4]} grid={[-2, 2]} labelX={493} tickY={825} />
      <GroupBars labels={fRightLabels} series={[fRightPost, fRightPreg, fRightPre]} left={711} right={773} top={469} bottom={802}
        domain={[-4, 6]} grid={[-2, 2, 4]} labelX={703} tickY={815} />
    </g>
  );
}

export default function App() {
  return (
    <svg width={777} height={828} style={{ position: "absolute", left: 0, top: 0, background: "#fff" }} fontFamily={CAL}>
      <rect width={777} height={828} fill="#fff" />
      <PanelA />
      <PanelB />
      <PanelC />
      <PanelD />
      <PanelE />
      <PanelF />
    </svg>
  );
}
